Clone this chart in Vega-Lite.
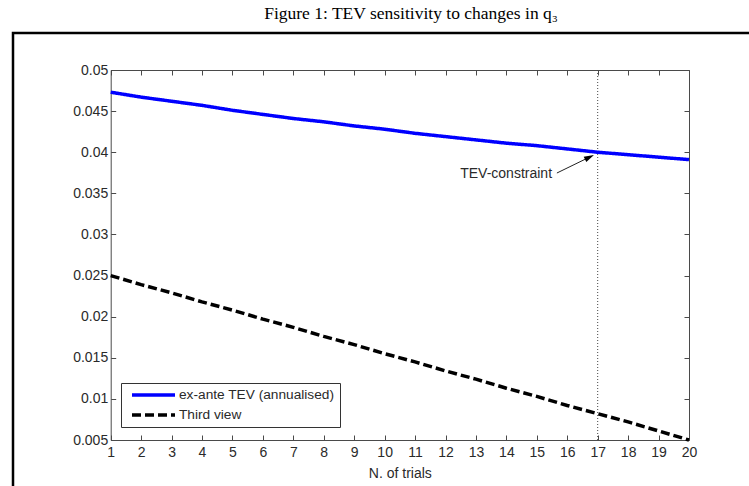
{
  "$schema": "https://vega.github.io/schema/vega-lite/v6.json",
  "width": 756,
  "height": 473,
  "autosize": {"type": "none"},
  "padding": {"left": 13, "top": 33, "right": -20, "bottom": -20},
  "background": "white",
  "title": {
    "text": "Figure 1: TEV sensitivity to changes in q₃",
    "font": "Liberation Serif",
    "fontSize": 17.5,
    "fontWeight": "normal",
    "color": "black",
    "anchor": "middle",
    "frame": "group",
    "baseline": "alphabetic",
    "dx": 20,
    "offset": -3
  },
  "datasets": {
    "series": [
      {"trial": 1, "value": 0.0473, "series": "ex-ante TEV (annualised)"},
      {"trial": 2, "value": 0.0467, "series": "ex-ante TEV (annualised)"},
      {"trial": 3, "value": 0.0462, "series": "ex-ante TEV (annualised)"},
      {"trial": 4, "value": 0.0457, "series": "ex-ante TEV (annualised)"},
      {"trial": 5, "value": 0.0451, "series": "ex-ante TEV (annualised)"},
      {"trial": 6, "value": 0.0446, "series": "ex-ante TEV (annualised)"},
      {"trial": 7, "value": 0.0441, "series": "ex-ante TEV (annualised)"},
      {"trial": 8, "value": 0.0437, "series": "ex-ante TEV (annualised)"},
      {"trial": 9, "value": 0.0432, "series": "ex-ante TEV (annualised)"},
      {"trial": 10, "value": 0.0428, "series": "ex-ante TEV (annualised)"},
      {"trial": 11, "value": 0.0423, "series": "ex-ante TEV (annualised)"},
      {"trial": 12, "value": 0.0419, "series": "ex-ante TEV (annualised)"},
      {"trial": 13, "value": 0.0415, "series": "ex-ante TEV (annualised)"},
      {"trial": 14, "value": 0.0411, "series": "ex-ante TEV (annualised)"},
      {"trial": 15, "value": 0.0408, "series": "ex-ante TEV (annualised)"},
      {"trial": 16, "value": 0.0404, "series": "ex-ante TEV (annualised)"},
      {"trial": 17, "value": 0.0400, "series": "ex-ante TEV (annualised)"},
      {"trial": 18, "value": 0.0397, "series": "ex-ante TEV (annualised)"},
      {"trial": 19, "value": 0.0394, "series": "ex-ante TEV (annualised)"},
      {"trial": 20, "value": 0.0391, "series": "ex-ante TEV (annualised)"},
      {"trial": 1, "value": 0.0250, "series": "Third view"},
      {"trial": 2, "value": 0.0239, "series": "Third view"},
      {"trial": 3, "value": 0.0229, "series": "Third view"},
      {"trial": 4, "value": 0.0218, "series": "Third view"},
      {"trial": 5, "value": 0.0208, "series": "Third view"},
      {"trial": 6, "value": 0.0197, "series": "Third view"},
      {"trial": 7, "value": 0.0187, "series": "Third view"},
      {"trial": 8, "value": 0.0176, "series": "Third view"},
      {"trial": 9, "value": 0.0166, "series": "Third view"},
      {"trial": 10, "value": 0.0155, "series": "Third view"},
      {"trial": 11, "value": 0.0145, "series": "Third view"},
      {"trial": 12, "value": 0.0134, "series": "Third view"},
      {"trial": 13, "value": 0.0124, "series": "Third view"},
      {"trial": 14, "value": 0.0113, "series": "Third view"},
      {"trial": 15, "value": 0.0103, "series": "Third view"},
      {"trial": 16, "value": 0.0092, "series": "Third view"},
      {"trial": 17, "value": 0.0082, "series": "Third view"},
      {"trial": 18, "value": 0.0072, "series": "Third view"},
      {"trial": 19, "value": 0.0061, "series": "Third view"},
      {"trial": 20, "value": 0.0050, "series": "Third view"}
    ],
    "constraint": [{"trial": 17, "lo": 0.005, "hi": 0.05}],
    "label": [{"trial": 15.5, "value": 0.03735, "text": "TEV-constraint"}],
    "arrow": [{"x1": 15.66, "y1": 0.03747, "x2": 16.73, "y2": 0.0394}],
    "head": [{"trial": 16.73, "value": 0.0394}]
  },
  "layer": [
    {
      "data": {"name": "constraint"},
      "mark": {"type": "rule", "color": "#444444", "strokeWidth": 1, "strokeDash": [1, 2]},
      "encoding": {
        "x": {
          "field": "trial", "type": "quantitative",
          "scale": {"domain": [1, 20], "range": [97.7, 676], "nice": false, "zero": false},
          "axis": {"orient": "top", "offset": -37, "labels": false, "title": null,
                   "values": [1,2,3,4,5,6,7,8,9,10,11,12,13,14,15,16,17,18,19,20]}
        },
        "y": {
          "field": "lo", "type": "quantitative",
          "scale": {"domain": [0.005, 0.05], "range": [407, 37], "nice": false, "zero": false},
          "axis": {"orient": "right", "offset": -80, "labels": false, "title": null,
                   "values": [0.005,0.01,0.015,0.02,0.025,0.03,0.035,0.04,0.045,0.05]}
        },
        "y2": {"field": "hi"}
      }
    },
    {
      "data": {"name": "series"},
      "mark": {"type": "line", "strokeWidth": 3.5},
      "encoding": {
        "x": {
          "field": "trial", "type": "quantitative",
          "axis": {"orient": "bottom", "offset": -66, "title": "N. of trials", "format": "d",
                   "values": [1,2,3,4,5,6,7,8,9,10,11,12,13,14,15,16,17,18,19,20],
                   "labelPadding": 10, "titlePadding": 7}
        },
        "y": {
          "field": "value", "type": "quantitative",
          "axis": {"orient": "left", "offset": -97.7, "title": null, "format": "~g",
                   "values": [0.005,0.01,0.015,0.02,0.025,0.03,0.035,0.04,0.045,0.05],
                   "labelPadding": 8}
        },
        "color": {
          "field": "series", "type": "nominal",
          "scale": {"domain": ["ex-ante TEV (annualised)", "Third view"], "range": ["#0000ff", "#000000"]},
          "legend": {
            "orient": "none", "legendX": 108, "legendY": 350, "title": null,
            "symbolType": "stroke", "symbolSize": 1849, "symbolStrokeWidth": 3.5,
            "clipHeight": 14, "rowPadding": 6, "padding": 5,
            "symbolOffset": 4, "labelOffset": 2, "labelLimit": 400,
            "labelFont": "Liberation Sans", "labelFontSize": 13.7, "labelColor": "#2a2a2a",
            "strokeColor": "#333333", "fillColor": "white"
          }
        },
        "strokeDash": {
          "field": "series", "type": "nominal",
          "scale": {"domain": ["ex-ante TEV (annualised)", "Third view"], "range": [[1, 0], [9, 4]]},
          "legend": {
            "orient": "none", "legendX": 108, "legendY": 350, "title": null,
            "symbolType": "stroke", "symbolSize": 1849, "symbolStrokeWidth": 3.5,
            "clipHeight": 14, "rowPadding": 6, "padding": 5,
            "symbolOffset": 4, "labelOffset": 2, "labelLimit": 400,
            "labelFont": "Liberation Sans", "labelFontSize": 13.7, "labelColor": "#2a2a2a",
            "strokeColor": "#333333", "fillColor": "white"
          }
        }
      }
    },
    {
      "data": {"name": "label"},
      "mark": {"type": "text", "align": "right", "baseline": "middle", "font": "Liberation Sans", "fontSize": 14, "color": "#2a2a2a"},
      "encoding": {
        "x": {"field": "trial", "type": "quantitative", "axis": null},
        "y": {"field": "value", "type": "quantitative", "axis": null},
        "text": {"field": "text"}
      }
    },
    {
      "data": {"name": "arrow"},
      "mark": {"type": "rule", "color": "#222222", "strokeWidth": 1},
      "encoding": {
        "x": {"field": "x1", "type": "quantitative", "axis": null},
        "y": {"field": "y1", "type": "quantitative", "axis": null},
        "x2": {"field": "x2"},
        "y2": {"field": "y2"}
      }
    },
    {
      "data": {"name": "head"},
      "mark": {"type": "point", "shape": "M1,0L-1,-0.6L-1,0.6Z", "filled": true, "color": "black", "opacity": 1, "size": 100, "angle": 334},
      "encoding": {
        "x": {"field": "trial", "type": "quantitative", "axis": null},
        "y": {"field": "value", "type": "quantitative", "axis": null}
      }
    }
  ],
  "resolve": {"axis": {"x": "independent", "y": "independent"}},
  "config": {
    "view": {"stroke": "black", "strokeWidth": 2.5},
    "axis": {
      "domainColor": "#4a4a4a", "domainWidth": 1,
      "tickColor": "#4a4a4a", "tickWidth": 1, "tickSize": -5,
      "labelFont": "Liberation Sans", "labelFontSize": 14, "labelColor": "#2a2a2a",
      "labelFlush": false, "labelOverlap": false, "labelBound": false,
      "titleFont": "Liberation Sans", "titleFontSize": 14, "titleFontWeight": "normal", "titleColor": "#2a2a2a",
      "grid": false
    }
  }
}
